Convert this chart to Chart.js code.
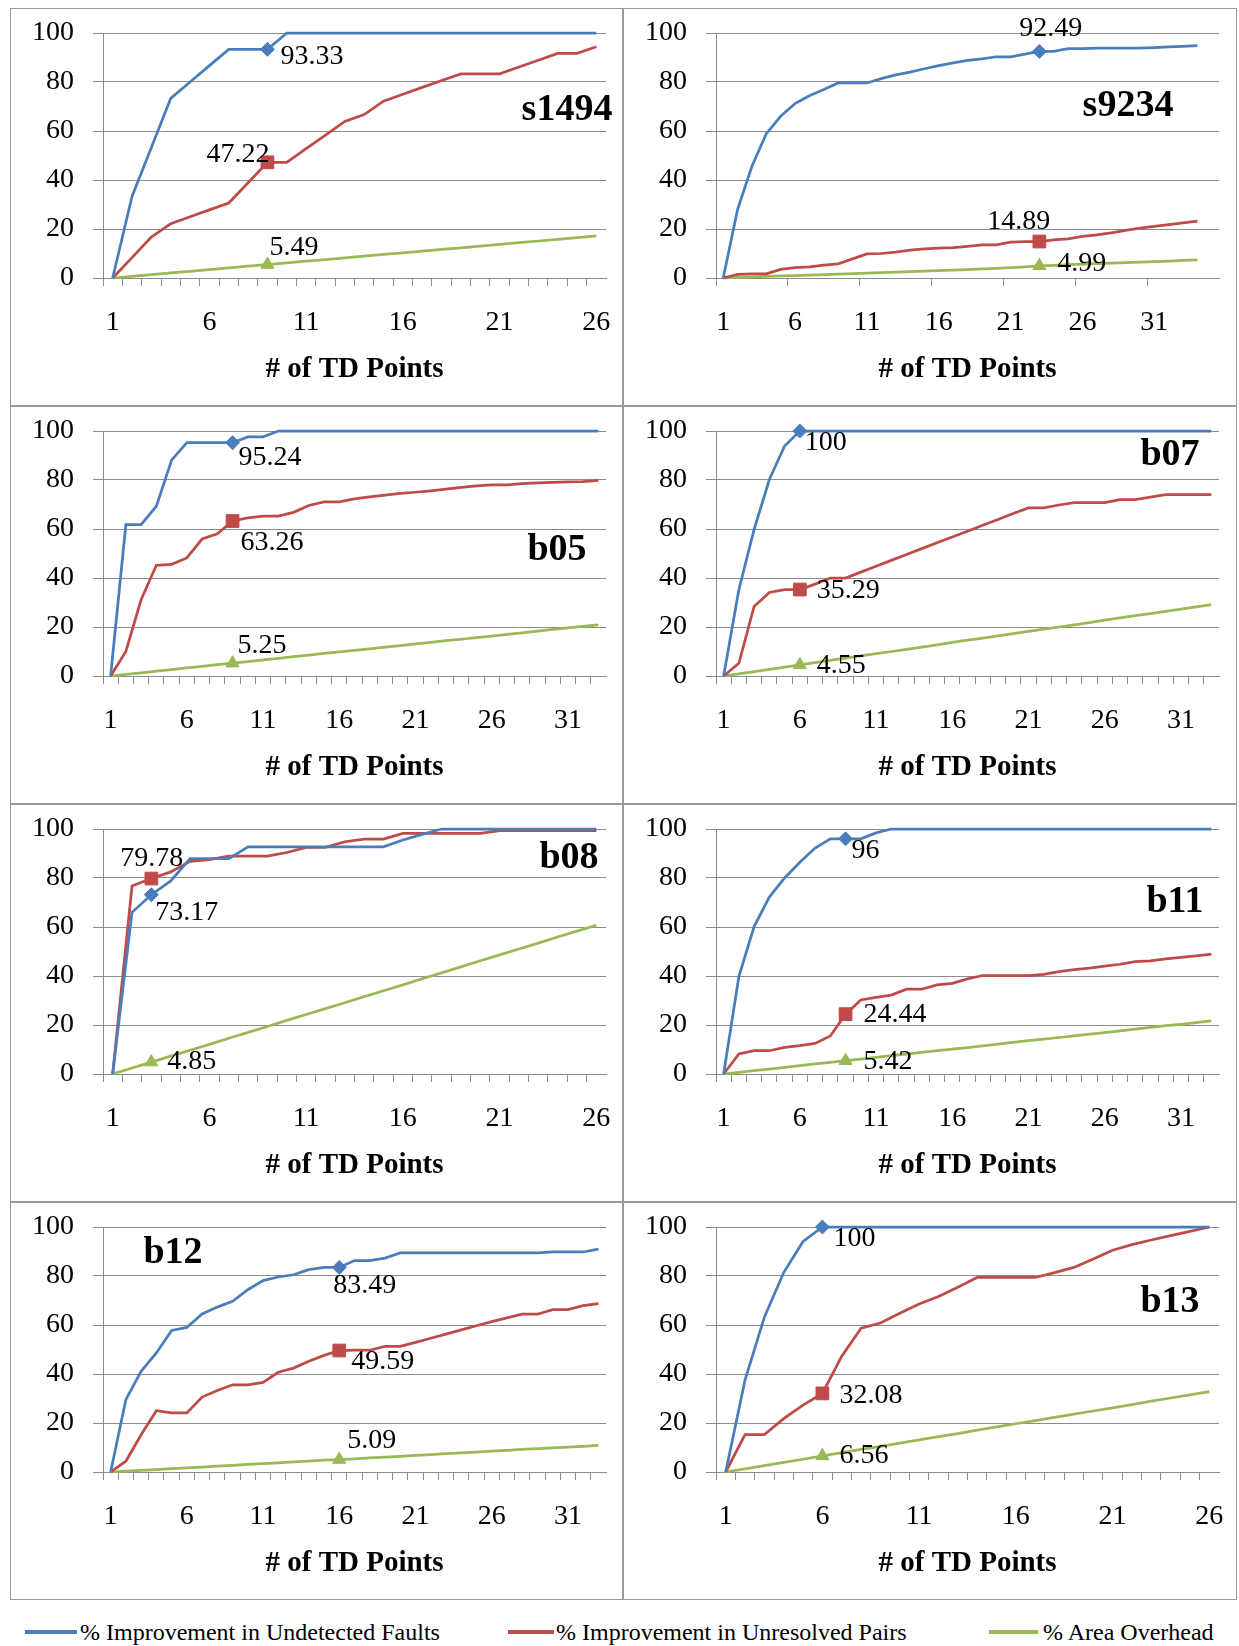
<!DOCTYPE html>
<html>
<head>
<meta charset="utf-8">
<title>TD points</title>
<script src="https://cdn.jsdelivr.net/npm/chart.js@4.4.1/dist/chart.umd.min.js"></script>
<style>
  html, body { margin: 0; padding: 0; background: #fff; }
  #page { position: relative; width: 1239px; height: 1646px; overflow: hidden; }
  .panel { position: absolute; box-sizing: border-box; border: 1px solid #9a9a9a; background: #fff; }
  .panel canvas { position: absolute; left: 0; top: 0; }
  .legend-line { position: absolute; height: 4px; }
  .legend-text { position: absolute; font: 24px 'Liberation Serif', serif; line-height: 28px; color: #000; white-space: nowrap; }
</style>
</head>
<body>
<div id="page"></div>
<script>
// categories (# of TD points)
const tdPoints26 = [1, 2, 3, 4, 5, 6, 7, 8, 9, 10, 11, 12, 13, 14, 15, 16, 17, 18, 19, 20, 21, 22, 23, 24, 25, 26];
const tdPoints33 = [1, 2, 3, 4, 5, 6, 7, 8, 9, 10, 11, 12, 13, 14, 15, 16, 17, 18, 19, 20, 21, 22, 23, 24, 25, 26, 27, 28, 29, 30, 31, 32, 33];
const tdPoints35 = [1, 2, 3, 4, 5, 6, 7, 8, 9, 10, 11, 12, 13, 14, 15, 16, 17, 18, 19, 20, 21, 22, 23, 24, 25, 26, 27, 28, 29, 30, 31, 32, 33, 34, 35];

const seriesNames = ['% Improvement in Undetected Faults', '% Improvement in Unresolved Pairs', '% Area Overhead'];

// s1494
const s1494Faults = [0, 33.3, 53.3, 73.3, 80, 86.7, 93.33, 93.33, 93.33, 100, 100, 100, 100, 100, 100, 100, 100, 100, 100, 100, 100, 100, 100, 100, 100, 100];
const s1494Pairs = [0, 8.3, 16.7, 22.2, 25, 27.8, 30.6, 38.9, 47.22, 47.22, 52.8, 58.3, 63.9, 66.7, 72.2, 75, 77.8, 80.6, 83.3, 83.3, 83.3, 86.1, 88.9, 91.7, 91.7, 94.4];
const s1494Area = [0, 0.7, 1.4, 2.1, 2.7, 3.4, 4.1, 4.8, 5.49, 6.2, 6.9, 7.5, 8.2, 8.9, 9.6, 10.3, 11.0, 11.7, 12.3, 13.0, 13.7, 14.4, 15.1, 15.8, 16.5, 17.2];
const s1494Mark = 9;

// s9234
const s9234Faults = [0, 27.9, 45.6, 58.9, 66, 71.2, 74.4, 76.9, 79.6, 79.6, 79.6, 81.4, 82.9, 84, 85.4, 86.7, 87.8, 88.8, 89.4, 90.3, 90.3, 91.4, 92.49, 92.49, 93.6, 93.6, 93.8, 93.8, 93.8, 93.8, 94.0, 94.3, 94.5, 94.8];
const s9234Pairs = [0, 1.5, 1.7, 1.7, 3.5, 4.2, 4.5, 5.3, 5.8, 7.8, 9.8, 10, 10.6, 11.4, 11.9, 12.2, 12.4, 12.9, 13.5, 13.5, 14.6, 14.89, 14.89, 15.6, 16, 17, 17.6, 18.4, 19.4, 20.4, 21.1, 21.8, 22.5, 23.2];
const s9234Area = [0, 0.3, 0.5, 0.7, 0.9, 1.0, 1.2, 1.4, 1.6, 1.8, 2.0, 2.2, 2.4, 2.6, 2.8, 3.0, 3.2, 3.4, 3.7, 3.9, 4.2, 4.5, 4.99, 5.2, 5.5, 5.7, 5.9, 6.1, 6.3, 6.5, 6.7, 6.9, 7.2, 7.4];
const s9234Mark = 23;

// b05
const b05Faults = [0, 61.8, 61.8, 69.3, 88.1, 95.24, 95.24, 95.24, 95.24, 97.6, 97.6, 100, 100, 100, 100, 100, 100, 100, 100, 100, 100, 100, 100, 100, 100, 100, 100, 100, 100, 100, 100, 100, 100];
const b05Pairs = [0, 10, 31.1, 45.2, 45.6, 48.2, 55.9, 58, 63.26, 64.5, 65.3, 65.3, 66.8, 69.6, 71.1, 71.1, 72.3, 73.1, 73.8, 74.5, 75, 75.6, 76.3, 77, 77.6, 78, 78, 78.5, 78.8, 79, 79.2, 79.3, 79.8];
const b05Area = [0, 0.66, 1.3, 2.0, 2.6, 3.3, 3.9, 4.6, 5.25, 5.9, 6.6, 7.2, 7.9, 8.5, 9.2, 9.8, 10.5, 11.1, 11.8, 12.4, 13.1, 13.7, 14.4, 15.0, 15.7, 16.3, 17.0, 17.6, 18.3, 19.0, 19.6, 20.3, 20.9];
const b05Mark = 9;

// b07
const b07Faults = [0, 35.2, 59.8, 80.2, 93.9, 100, 100, 100, 100, 100, 100, 100, 100, 100, 100, 100, 100, 100, 100, 100, 100, 100, 100, 100, 100, 100, 100, 100, 100, 100, 100, 100, 100];
const b07Pairs = [0, 5.2, 28.4, 34.1, 35.29, 35.29, 37.5, 40, 40, 42.4, 44.8, 47.2, 49.6, 52, 54.4, 56.7, 59.1, 61.5, 63.9, 66.3, 68.6, 68.6, 69.8, 70.8, 70.8, 70.8, 72, 72, 73, 74, 74, 74, 74];
const b07Area = [0, 0.91, 1.8, 2.7, 3.6, 4.55, 5.5, 6.4, 7.3, 8.2, 9.1, 10.0, 10.9, 11.8, 12.7, 13.7, 14.6, 15.5, 16.4, 17.3, 18.2, 19.1, 20.0, 20.9, 21.8, 22.8, 23.7, 24.6, 25.5, 26.4, 27.3, 28.2, 29.1];
const b07Mark = 6;

// b08
const b08Faults = [0, 66, 73.17, 78.8, 87.9, 87.9, 87.9, 92.7, 92.7, 92.7, 92.7, 92.7, 92.7, 92.7, 92.7, 95.5, 97.8, 100, 100, 100, 100, 100, 100, 100, 100, 100];
const b08Pairs = [0, 76.7, 79.78, 82.5, 86.8, 87.5, 88.9, 88.9, 88.9, 90.4, 92.5, 92.5, 94.8, 95.9, 95.9, 98.2, 98.2, 98.2, 98.2, 98.2, 99.3, 99.3, 99.3, 99.3, 99.3, 99.3];
const b08Area = [0, 2.43, 4.85, 7.3, 9.7, 12.1, 14.6, 17.0, 19.4, 21.9, 24.3, 26.7, 29.1, 31.6, 34.0, 36.4, 38.9, 41.3, 43.7, 46.2, 48.6, 51.0, 53.4, 55.9, 58.3, 60.7];
const b08Mark = 3;

// b11
const b11Faults = [0, 39.8, 60.2, 72.2, 80, 86.4, 92.2, 96, 96, 96, 98.4, 100, 100, 100, 100, 100, 100, 100, 100, 100, 100, 100, 100, 100, 100, 100, 100, 100, 100, 100, 100, 100, 100];
const b11Pairs = [0, 8.2, 9.5, 9.5, 10.9, 11.6, 12.5, 15.5, 24.44, 30.2, 31.3, 32.2, 34.6, 34.6, 36.4, 37, 38.8, 40.2, 40.2, 40.2, 40.2, 40.7, 41.8, 42.6, 43.2, 44, 44.8, 45.9, 46.2, 47, 47.6, 48.2, 48.9];
const b11Area = [0, 0.68, 1.4, 2.0, 2.7, 3.4, 4.1, 4.7, 5.42, 6.1, 6.8, 7.5, 8.1, 8.8, 9.5, 10.2, 10.8, 11.5, 12.2, 12.9, 13.6, 14.2, 14.9, 15.6, 16.3, 16.9, 17.6, 18.3, 19.0, 19.7, 20.3, 21.0, 21.7];
const b11Mark = 9;

// b12
const b12Faults = [0, 29.5, 41.1, 48.6, 57.8, 59, 64.5, 67.3, 69.7, 74.4, 78.1, 79.6, 80.5, 82.6, 83.5, 83.49, 86.3, 86.3, 87.3, 89.4, 89.4, 89.4, 89.4, 89.4, 89.4, 89.4, 89.4, 89.4, 89.4, 89.8, 89.8, 89.8, 91];
const b12Pairs = [0, 4.4, 15.2, 25, 24.1, 24.1, 30.6, 33.3, 35.6, 35.6, 36.6, 40.7, 42.4, 45.2, 47.6, 49.59, 49.7, 49.7, 51.3, 51.3, 52.9, 54.6, 56.3, 58, 59.7, 61.4, 62.9, 64.4, 64.4, 66.3, 66.3, 67.9, 68.7];
const b12Area = [0, 0.34, 0.68, 1.0, 1.4, 1.7, 2.0, 2.4, 2.7, 3.1, 3.4, 3.7, 4.1, 4.4, 4.8, 5.09, 5.4, 5.8, 6.1, 6.4, 6.8, 7.1, 7.5, 7.8, 8.1, 8.5, 8.8, 9.2, 9.5, 9.8, 10.2, 10.5, 10.9];
const b12Mark = 16;

// b13
const b13Faults = [0, 37.5, 63.2, 81.4, 94.1, 100, 100, 100, 100, 100, 100, 100, 100, 100, 100, 100, 100, 100, 100, 100, 100, 100, 100, 100, 100, 100];
const b13Pairs = [0, 15.3, 15.3, 21.8, 27.3, 32.08, 47.3, 58.7, 60.8, 64.8, 68.6, 71.6, 75.4, 79.4, 79.4, 79.4, 79.4, 81.4, 83.5, 86.9, 90.5, 92.8, 94.7, 96.5, 98.2, 100];
const b13Area = [0, 1.31, 2.6, 3.9, 5.2, 6.56, 7.9, 9.2, 10.5, 11.8, 13.1, 14.4, 15.7, 17.1, 18.4, 19.7, 21.0, 22.3, 23.6, 24.9, 26.2, 27.5, 28.9, 30.2, 31.5, 32.8];
const b13Mark = 6;

const yTicks = [0, 20, 40, 60, 80, 100];
const xTitle = '# of TD Points';

// styles
const fontFamily = "'Liberation Serif', 'Times New Roman', serif";
const seriesColors = ['#4A7EBB', '#BE4B48', '#98B954'];
const markerStyles = ['rectRot', 'rect', 'triangle'];
const markerSizes = [7, 9, 7.5];
const gridColor = '#8c8c8c';

// panel boxes: [left, top, width, height]; label offsets [dx, dy, align] from the marked point
const panels = [
    { name: 's1494', labels: tdPoints26, series: [s1494Faults, s1494Pairs, s1494Area], mark: s1494Mark, tickEvery: 1,
      box: [10, 8, 613, 398], namePos: [557, 102], labelPos: [[13, 7, 'left'], [2, -8, 'right'], [2, -17, 'left']] },
    { name: 's9234', labels: tdPoints35, series: [s9234Faults, s9234Pairs, s9234Area], mark: s9234Mark, tickEvery: 5,
      box: [623, 8, 614, 398], namePos: [505, 98], labelPos: [[-20, -23, 'left'], [-52, -20, 'left'], [18, -2, 'left']] },
    { name: 'b05', labels: tdPoints33, series: [b05Faults, b05Pairs, b05Area], mark: b05Mark, tickEvery: 1,
      box: [10, 406, 613, 398], namePos: [547, 144], labelPos: [[6, 15, 'left'], [8, 22, 'left'], [5, -17, 'left']] },
    { name: 'b07', labels: tdPoints33, series: [b07Faults, b07Pairs, b07Area], mark: b07Mark, tickEvery: 1,
      box: [623, 406, 614, 398], namePos: [547, 49], labelPos: [[5, 12, 'left'], [17, 1, 'left'], [17, 1, 'left']] },
    { name: 'b08', labels: tdPoints26, series: [b08Faults, b08Pairs, b08Area], mark: b08Mark, tickEvery: 1,
      box: [10, 804, 613, 398], namePos: [559, 54], labelPos: [[4, 18, 'left'], [-31, -20, 'left'], [16, 0, 'left']] },
    { name: 'b11', labels: tdPoints33, series: [b11Faults, b11Pairs, b11Area], mark: b11Mark, tickEvery: 1,
      box: [623, 804, 614, 398], namePos: [552, 98], labelPos: [[6, 12, 'left'], [18, 1, 'left'], [18, 1, 'left']] },
    { name: 'b12', labels: tdPoints33, series: [b12Faults, b12Pairs, b12Area], mark: b12Mark, tickEvery: 1,
      box: [10, 1202, 613, 398], namePos: [163, 51], labelPos: [[-6, 18, 'left'], [12, 11, 'left'], [8, -19, 'left']] },
    { name: 'b13', labels: tdPoints26, series: [b13Faults, b13Pairs, b13Area], mark: b13Mark, tickEvery: 1,
      box: [623, 1202, 614, 398], namePos: [547, 100], labelPos: [[11, 12, 'left'], [17, 2, 'left'], [17, 0, 'left']] }
];

const page = document.getElementById('page');

function drawPanelText(chart, p) {
    const ctx = chart.ctx;
    const area = chart.chartArea;
    ctx.save();
    ctx.fillStyle = '#000';
    ctx.textBaseline = 'middle';

    // chart name
    ctx.font = 'bold 38px ' + fontFamily;
    ctx.textAlign = 'center';
    ctx.fillText(p.name, p.namePos[0] - 1, p.namePos[1] - 1);

    // x axis title
    ctx.font = 'bold 29px ' + fontFamily;
    ctx.fillText(xTitle, (area.left + area.right) / 2, area.bottom + 92);

    // value labels next to the marked points
    ctx.font = '28px ' + fontFamily;
    p.labelPos.forEach((lp, k) => {
        const pt = chart.getDatasetMeta(k).data[p.mark - 1];
        if (!pt) return;
        ctx.textAlign = lp[2];
        ctx.fillText(String(p.series[k][p.mark - 1]), pt.x + lp[0], pt.y + lp[1]);
    });
    ctx.restore();
}

function makePanel(p) {
    const div = document.createElement('div');
    div.className = 'panel';
    div.style.left = p.box[0] + 'px';
    div.style.top = p.box[1] + 'px';
    div.style.width = p.box[2] + 'px';
    div.style.height = p.box[3] + 'px';
    const w = p.box[2] - 2, h = p.box[3] - 2;
    const canvas = document.createElement('canvas');
    canvas.width = w;
    canvas.height = h;
    canvas.style.width = w + 'px';
    canvas.style.height = h + 'px';
    div.appendChild(canvas);
    page.appendChild(div);

    new Chart(canvas, {
        type: 'line',
        data: {
            labels: p.labels,
            datasets: p.series.map((vals, k) => ({
                label: seriesNames[k],
                data: vals,
                borderColor: seriesColors[k],
                backgroundColor: seriesColors[k],
                borderWidth: 2.75,
                tension: 0,
                fill: false,
                clip: false,
                pointStyle: markerStyles[k],
                pointRadius: c => (c.dataIndex === p.mark - 1 ? markerSizes[k] : 0),
                pointHoverRadius: 0,
                pointBorderWidth: 1
            }))
        },
        options: {
            responsive: false,
            animation: false,
            events: [],
            layout: { padding: { left: 0, top: 24, right: w - 595, bottom: 0 } },
            plugins: {
                legend: { display: false },
                tooltip: { enabled: false }
            },
            scales: {
                x: {
                    type: 'category',
                    offset: true,
                    afterFit: s => {
                        s.height = h - 269;
                        s.paddingLeft = 0;
                        s.paddingRight = 0;
                    },
                    grid: {
                        offset: true,
                        drawOnChartArea: false,
                        drawTicks: true,
                        tickLength: 8,
                        lineWidth: 1,
                        color: c => (c.index % p.tickEvery === 0 ? gridColor : 'rgba(0,0,0,0)')
                    },
                    border: { display: true, color: gridColor, width: 1 },
                    ticks: {
                        autoSkip: false,
                        maxRotation: 0,
                        padding: 20,
                        color: '#000',
                        font: { family: fontFamily, size: 28 },
                        callback: function (val, i) {
                            return i % 5 === 0 ? this.getLabelForValue(val) : '';
                        }
                    }
                },
                y: {
                    min: yTicks[0],
                    max: yTicks[yTicks.length - 1],
                    afterFit: s => {
                        s.width = 92;
                        s.paddingTop = 0;
                        s.paddingBottom = 0;
                    },
                    afterBuildTicks: s => { s.ticks = yTicks.map(v => ({ value: v })); },
                    grid: { color: gridColor, tickLength: 10, lineWidth: 1 },
                    border: { display: true, color: gridColor, width: 1 },
                    ticks: {
                        autoSkip: false,
                        padding: 19,
                        color: '#000',
                        font: { family: fontFamily, size: 28 }
                    }
                }
            }
        },
        plugins: [{ id: 'panelText', afterDraw: chart => drawPanelText(chart, p) }]
    });
}

panels.forEach(makePanel);

// shared legend under the grid
const legendItems = [
    { line: [25, 52], text: 80 },
    { line: [508, 46], text: 556 },
    { line: [989, 49], text: 1043 }
];
legendItems.forEach((it, k) => {
    const ln = document.createElement('div');
    ln.className = 'legend-line';
    ln.style.left = it.line[0] + 'px';
    ln.style.width = it.line[1] + 'px';
    ln.style.top = '1630px';
    ln.style.background = seriesColors[k];
    page.appendChild(ln);
    const tx = document.createElement('div');
    tx.className = 'legend-text';
    tx.style.left = it.text + 'px';
    tx.style.top = '1618px';
    tx.textContent = seriesNames[k];
    page.appendChild(tx);
});
</script>
</body>
</html>
